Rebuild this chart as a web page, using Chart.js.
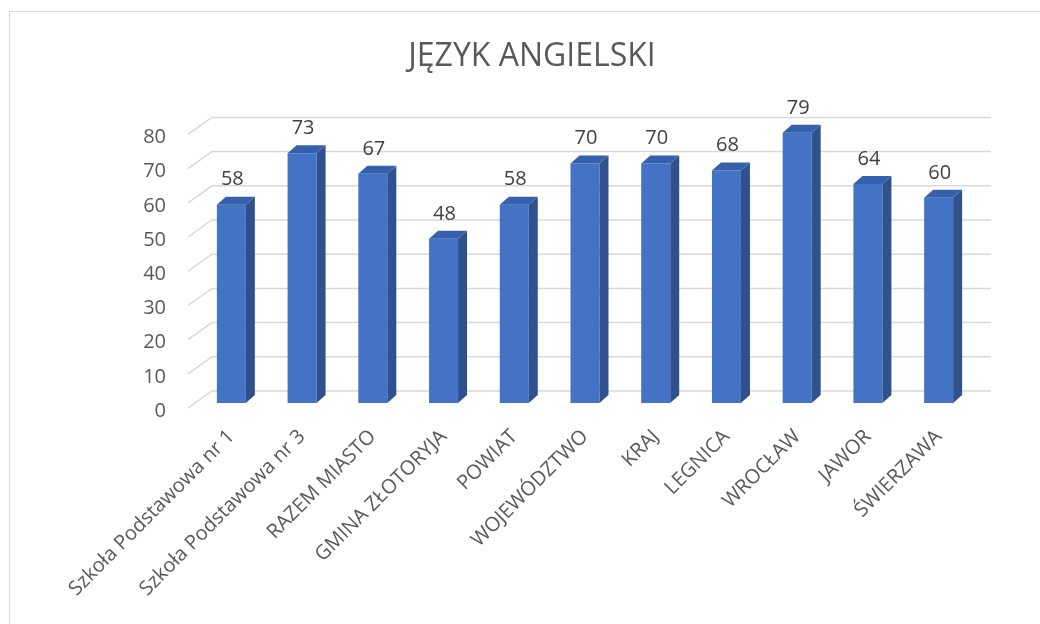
<!DOCTYPE html>
<html>
<head>
<meta charset="utf-8">
<script src="https://cdn.jsdelivr.net/npm/chart.js@4"></script>
<style>
html,body{margin:0;padding:0;background:#fff;width:1040px;height:624px;overflow:hidden}
#ramka{position:absolute;left:9px;top:11px;width:1100px;height:700px;border:1.5px solid #d9d9d9;box-sizing:border-box}
#wykres{position:absolute;left:0;top:0}
</style>
</head>
<body>
<div id="ramka"></div>
<canvas id="wykres" width="1040" height="624"></canvas>
<script>
let kategorie=['Szkoła Podstawowa nr 1','Szkoła Podstawowa nr 3','RAZEM MIASTO','GMINA ZŁOTORYJA','POWIAT','WOJEWÓDZTWO','KRAJ','LEGNICA','WROCŁAW','JAWOR','ŚWIERZAWA']
let wyniki=[58,73,67,48,58,70,70,68,79,64,60]
let ticksY=[0,10,20,30,40,50,60,70,80]

// tylna sciana + podloga (siatka 3D)
let siatka3d={
id:'siatka3d',
beforeDatasetsDraw(chart){
let ctx=chart.ctx
let y=chart.scales.y
let a=chart.chartArea
ctx.save()
ctx.strokeStyle='#d9d9d9'
ctx.lineWidth=1.5
ticksY.forEach(v=>{
let py=y.getPixelForValue(v)
ctx.beginPath()
ctx.moveTo(a.left-8,py+5)
ctx.lineTo(a.left+16,py-12)
ctx.lineTo(a.right+17,py-12)
ctx.stroke()
})
ctx.restore()
}
}

// boki, gora slupkow i etykiety wartosci
let slupki3d={
id:'slupki3d',
afterDatasetsDraw(chart){
let ctx=chart.ctx
let meta=chart.getDatasetMeta(0)
let gx=9,gy=8
ctx.save()
meta.data.forEach((b,i)=>{
let p=b.getProps(['x','y','base','width'],true)
let l=p.x-p.width/2,r=p.x+p.width/2
ctx.fillStyle='#2f528f'
ctx.beginPath()
ctx.moveTo(r,p.y)
ctx.lineTo(r+gx,p.y-gy)
ctx.lineTo(r+gx,p.base-gy)
ctx.lineTo(r,p.base)
ctx.closePath()
ctx.fill()
ctx.fillStyle='#3560ab'
ctx.beginPath()
ctx.moveTo(l,p.y)
ctx.lineTo(l+gx,p.y-gy)
ctx.lineTo(r+gx,p.y-gy)
ctx.lineTo(r,p.y)
ctx.closePath()
ctx.fill()
ctx.fillStyle='#404040'
ctx.font='20px "Open Sans"'
ctx.textAlign='center'
ctx.textBaseline='middle'
ctx.fillText(wyniki[i],p.x+1,p.y-25)
})
ctx.restore()
}
}

new Chart(document.getElementById('wykres'),{
type:'bar',
data:{
labels:kategorie,
datasets:[{
data:wyniki,
backgroundColor:'#4472c4',
borderWidth:0,
barPercentage:0.41,
categoryPercentage:1
}]
},
options:{
responsive:false,
animation:false,
layout:{padding:{left:90,right:66,top:20,bottom:21}},
plugins:{
legend:{display:false},
tooltip:{enabled:false},
title:{
display:true,
text:'JĘZYK ANGIELSKI',
color:'#595959',
font:{family:'"Open Sans"',size:32,weight:'normal'},
padding:{top:18,bottom:53}
}
},
scales:{
x:{
grid:{display:false,drawTicks:false},
border:{display:false},
ticks:{
color:'#595959',
font:{family:'"Open Sans"',size:20},
autoSkip:false,
minRotation:45,
maxRotation:45,
padding:22
},
afterFit(s){s.height=200}
},
y:{
min:0,
max:80,
grid:{display:false,drawTicks:false},
border:{display:false},
afterBuildTicks(s){s.ticks=ticksY.map(v=>({value:v}))},
ticks:{
color:'#595959',
font:{family:'"Open Sans"',size:20},
padding:30,
labelOffset:8
},
afterFit(s){s.width=106}
}
}
},
plugins:[siatka3d,slupki3d]
})
</script>
</body>
</html>
